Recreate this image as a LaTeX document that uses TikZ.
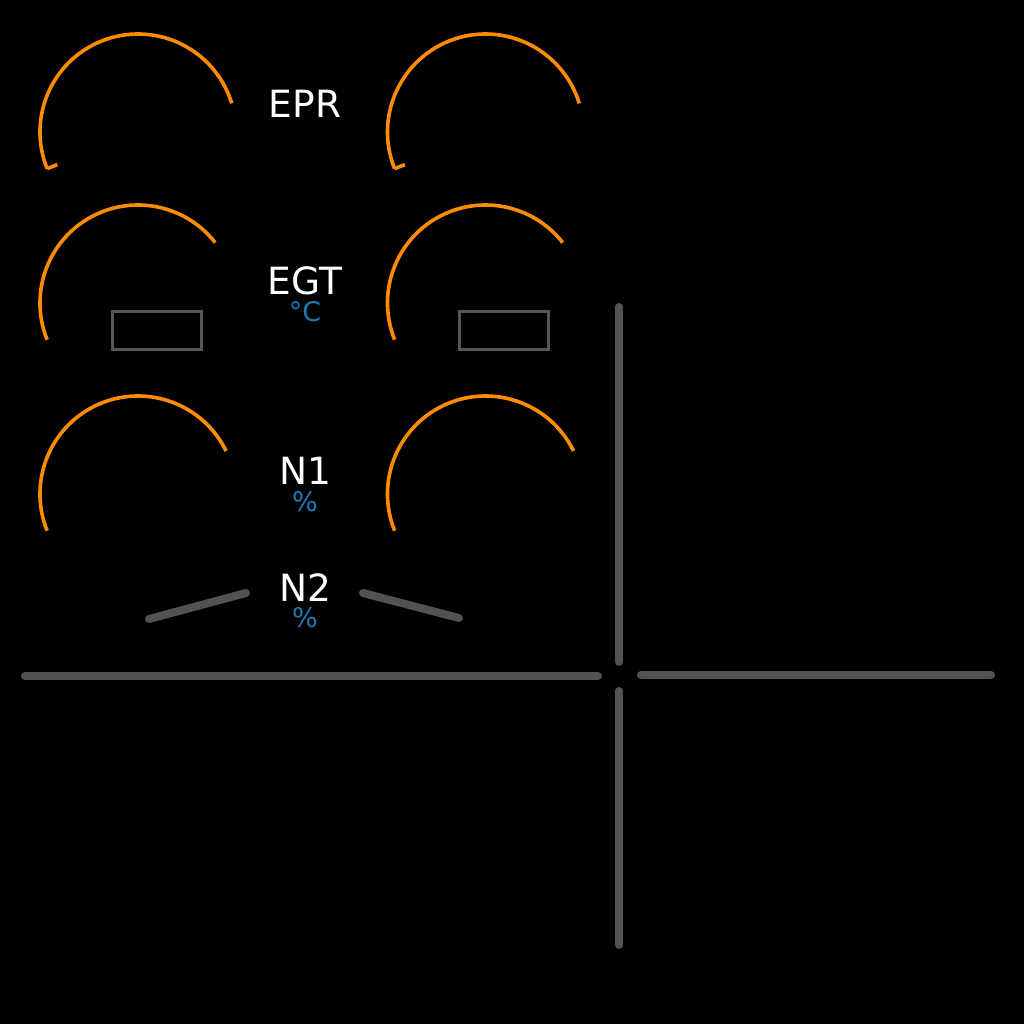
\documentclass[tikz,border=0pt]{standalone}
\usepackage{fontspec}
\setmainfont{DejaVu Sans}
\definecolor{gorange}{RGB}{255,140,0}
\definecolor{ggray}{RGB}{82,82,86}
\definecolor{rgray}{RGB}{85,85,85}
\definecolor{ublue}{RGB}{31,119,180}
\tikzset{
  gaugearc/.style={draw=gorange, line width=3.6pt},
  bar/.style={draw=ggray, line width=8pt, line cap=round},
  readout/.style={draw=rgray, line width=3pt, minimum width=89pt, minimum height=38pt, inner sep=0pt},
  title/.style={text=white, font=\fontsize{37.5}{37.5}\selectfont, anchor=base, inner sep=0pt},
  unit/.style={text=ublue, font=\fontsize{27}{27}\selectfont, anchor=base, inner sep=0pt}
}
\begin{document}
\begin{tikzpicture}[x=1pt,y=-1pt]
\fill[black] (0,0) rectangle (1024,1024);
\useasboundingbox (0,0) rectangle (1024,1024);
% gauge centres
\coordinate (epl) at (138,132);
\coordinate (epr) at (485.5,132);
\coordinate (egl) at (138,303);
\coordinate (egr) at (485.5,303);
\coordinate (n1l) at (138,494);
\coordinate (n1r) at (485.5,494);
% EPR gauges
\foreach \c in {epl,epr}{
  \draw[gaugearc] (\c) ++(202:98pt) arc[start angle=202, end angle=17, radius=98pt];
  \draw[gaugearc] (\c) ++(202:98pt) -- ++(22:11pt);
}
% EGT gauges
\foreach \c in {egl,egr}{
  \draw[gaugearc] (\c) ++(202:98pt) arc[start angle=202, end angle=38, radius=98pt];
}
% N1 gauges
\foreach \c in {n1l,n1r}{
  \draw[gaugearc] (\c) ++(202:98pt) arc[start angle=202, end angle=26, radius=98pt];
}
% EGT readout boxes
\node[readout] (boxl) at (156.5,330) {};
\node[readout] (boxr) at (503.5,330) {};
% labels
\node[title] (tepr) at (305,118) {EPR};
\node[title] (tegt) at (305,294) {EGT};
\node[unit] (uegt) at (305,321) {°C};
\node[title] (tn1) at (305,484) {N1};
\node[unit] (un1) at (305,511) {\%};
\node[title] (tn2) at (305,601) {N2};
\node[unit] (un2) at (305,627) {\%};
% N2 bars
\coordinate (n2a) at (149,619);
\coordinate (n2b) at (246,593);
\coordinate (n2c) at (363,593);
\coordinate (n2d) at (459,618);
\draw[bar] (n2a) -- (n2b);
\draw[bar] (n2c) -- (n2d);
% cross lines
\coordinate (h1a) at (25,676);
\coordinate (h1b) at (598,676);
\coordinate (h2a) at (641,675);
\coordinate (h2b) at (991,675);
\coordinate (v1a) at (619,307);
\coordinate (v1b) at (619,662);
\coordinate (v2a) at (619,691);
\coordinate (v2b) at (619,945);
\draw[bar] (h1a) -- (h1b);
\draw[bar] (h2a) -- (h2b);
\draw[bar] (v1a) -- (v1b);
\draw[bar] (v2a) -- (v2b);
\end{tikzpicture}
\end{document}
